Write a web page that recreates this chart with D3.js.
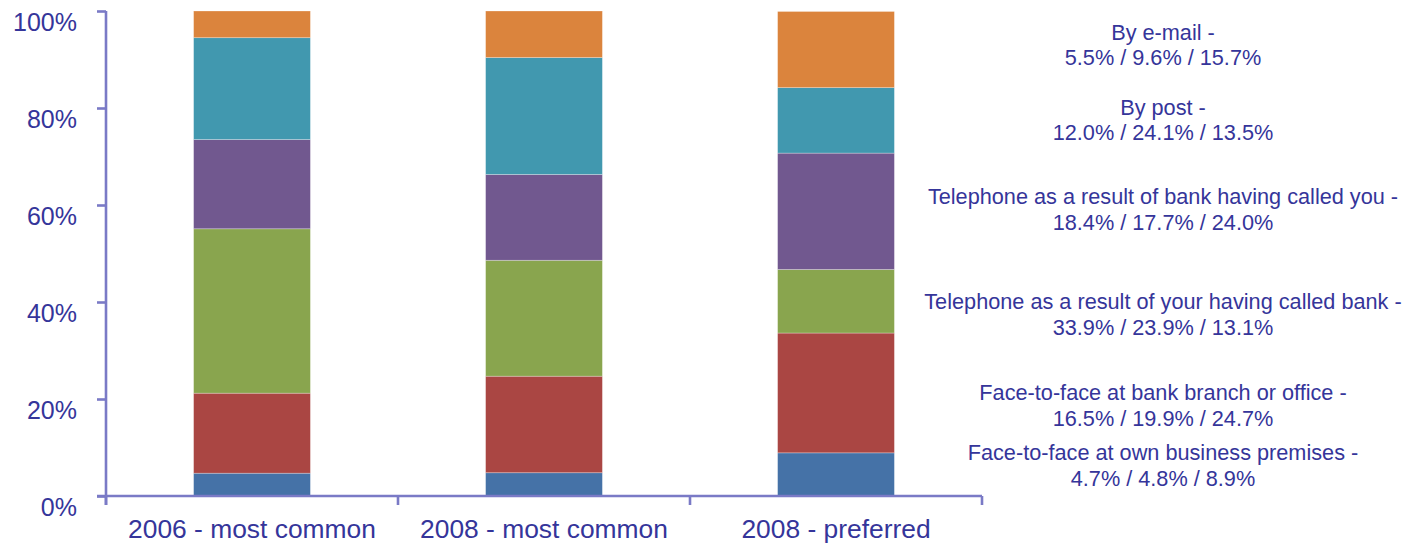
<!DOCTYPE html>
<html>
<head>
<meta charset="utf-8">
<script src="https://cdn.jsdelivr.net/npm/d3@7"></script>
<style>
  html, body { margin: 0; padding: 0; background: #ffffff; }
  svg { display: block; font-family: "Liberation Sans", Arial, sans-serif; }
</style>
</head>
<body>
<svg id="chart" width="1410" height="544"></svg>
<script>
// Contact channels with the bank, share of responses (%)
const categories = ["2006 - most common", "2008 - most common", "2008 - preferred"];
const seriesNames = [
  "Face-to-face at own business premises",
  "Face-to-face at bank branch or office",
  "Telephone as a result of your having called bank",
  "Telephone as a result of bank having called you",
  "By post",
  "By e-mail"
];
const ownPremises   = [4.7, 4.8, 8.9];
const bankBranch    = [16.5, 19.9, 24.7];
const youCalledBank = [33.9, 23.9, 13.1];
const bankCalledYou = [18.4, 17.7, 24.0];
const byPost        = [21.0, 24.1, 13.5];
const byEmail       = [5.5, 9.6, 15.7];
const yTicks = [0, 20, 40, 60, 80, 100];

// Annotation text shown to the right of the bars (top to bottom)
const noteTitles = [
  "By e-mail -",
  "By post -",
  "Telephone as a result of bank having called you -",
  "Telephone as a result of your having called bank -",
  "Face-to-face at bank branch or office -",
  "Face-to-face at own business premises -"
];
const noteValues = [
  "5.5% / 9.6% / 15.7%",
  "12.0% / 24.1% / 13.5%",
  "18.4% / 17.7% / 24.0%",
  "33.9% / 23.9% / 13.1%",
  "16.5% / 19.9% / 24.7%",
  "4.7% / 4.8% / 8.9%"
];

const colors = ["#4572a7", "#aa4643", "#89a54e", "#71588f", "#4198af", "#db843d"];
const axisColor = "#7a7ac6";
const textColor = "#35359a";

const svg = d3.select("#chart");

const table = categories.map((c, i) => ({
  category: c,
  s0: ownPremises[i], s1: bankBranch[i], s2: youCalledBank[i],
  s3: bankCalledYou[i], s4: byPost[i], s5: byEmail[i]
}));
const keys = ["s0", "s1", "s2", "s3", "s4", "s5"];
const stacked = d3.stack().keys(keys)(table);

const plotLeft = 106, plotRight = 982, plotTop = 11, plotBottom = 496;

const x = d3.scaleBand()
  .domain(categories)
  .range([plotLeft, plotRight])
  .paddingInner(0.6)
  .paddingOuter(0.3);

const y = d3.scaleLinear().domain([0, 100]).range([plotBottom, plotTop]);

// Stacked bars
svg.append("g")
  .selectAll("g")
  .data(stacked)
  .join("g")
  .attr("fill", (d, i) => colors[i])
  .selectAll("rect")
  .data(d => d)
  .join("rect")
  .attr("x", d => x(d.data.category))
  .attr("width", x.bandwidth())
  .attr("y", d => y(d[1]))
  .attr("height", d => y(d[0]) - y(d[1]))
  .attr("stroke", "rgba(255,255,255,0.35)")
  .attr("stroke-width", 0.8);

// Value axis
const yAxis = svg.append("g")
  .attr("transform", `translate(${plotLeft},0)`)
  .call(d3.axisLeft(y).tickValues(yTicks).tickSize(9).tickPadding(20).tickFormat(d => d + "%"));
yAxis.select(".domain").attr("stroke", axisColor).attr("stroke-width", 2.6)
  .attr("d", `M0,${plotTop}V${plotBottom + 9}`);
yAxis.selectAll(".tick line").attr("stroke", axisColor).attr("stroke-width", 2.6);
yAxis.selectAll(".tick text")
  .attr("fill", textColor)
  .attr("font-size", 25)
  .attr("font-family", "Liberation Sans, Arial, sans-serif")
  .attr("dy", "1.12em")
  .attr("y", -9);

// Category axis with ticks at band boundaries
const boundaries = [plotLeft].concat(categories.map(c => x(c) - x.step() * x.paddingOuter() + x.step()));
const xAxis = svg.append("g");
xAxis.append("line")
  .attr("x1", plotLeft - 9).attr("x2", plotRight)
  .attr("y1", plotBottom).attr("y2", plotBottom)
  .attr("stroke", axisColor).attr("stroke-width", 2.6);
xAxis.selectAll("line.tick")
  .data(boundaries)
  .join("line")
  .attr("class", "tick")
  .attr("x1", d => d).attr("x2", d => d)
  .attr("y1", plotBottom).attr("y2", plotBottom + 9)
  .attr("stroke", axisColor).attr("stroke-width", 2.6);
xAxis.selectAll("text")
  .data(categories)
  .join("text")
  .attr("x", d => x(d) + x.bandwidth() / 2)
  .attr("y", 538)
  .attr("text-anchor", "middle")
  .attr("fill", textColor)
  .attr("font-size", 26.4)
  .text(d => d);

// Annotations: series name and the three values
const noteX = 1163;
const noteBaseline = [39.5, 114.5, 204, 309, 400, 460];
const notes = svg.append("g")
  .attr("fill", textColor)
  .attr("font-size", 21.7)
  .attr("text-anchor", "middle");
noteTitles.forEach((t, i) => {
  const txt = notes.append("text").attr("x", noteX).attr("y", noteBaseline[i]);
  txt.append("tspan").attr("x", noteX).text(t);
  txt.append("tspan").attr("x", noteX).attr("dy", 25.5).text(noteValues[i]);
});
</script>
</body>
</html>
